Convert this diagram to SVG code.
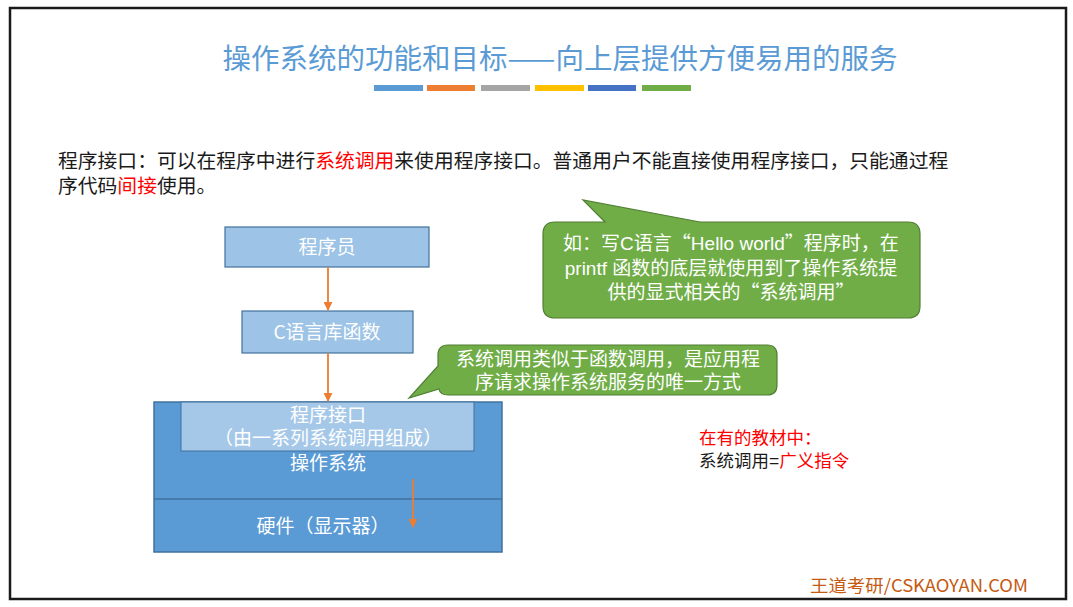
<svg xmlns="http://www.w3.org/2000/svg" width="1073" height="607" viewBox="0 0 1073 607">
<defs>
<style>
text{font-family:"Noto Sans CJK SC","Noto Sans",sans-serif;}
.w{fill:#ffffff;font-size:19px;text-anchor:middle;}
.box{fill:#9DC3E6;stroke:#41719C;stroke-width:1.2;}
.os{fill:#5B9BD5;stroke:#41719C;stroke-width:1.5;}
.call{fill:#70AD47;stroke:#507E32;stroke-width:1.2;}
.arr{stroke:#ED7D31;stroke-width:1.8;fill:none;marker-end:url(#ah);}
.red{fill:#FF0000;}
.blk{fill:#1a1a1a;}
.lt{font-family:"Liberation Sans","Noto Sans CJK SC",sans-serif;}
.q{font-family:"Noto Sans CJK SC",sans-serif;}
</style>
<marker id="ah" viewBox="0 0 10 10" refX="9" refY="5" markerWidth="5" markerHeight="5" orient="auto"><path d="M0,0L10,5L0,10z" fill="#ED7D31"/></marker>
</defs>
<rect x="0" y="0" width="1073" height="607" fill="#ffffff"/>
<rect x="10" y="8" width="1056" height="591" fill="#ffffff" stroke="#1a1a1a" stroke-width="2.5"/>
<g id="title">
<text x="560" y="69" font-size="28.5" fill="#5B9BD5" text-anchor="middle">操作系统的功能和目标——向上层提供方便易用的服务</text>
<rect x="374" y="85" width="49" height="6" fill="#5B9BD5"/>
<rect x="427" y="85" width="48" height="6" fill="#ED7D31"/>
<rect x="481" y="85" width="49" height="6" fill="#A5A5A5"/>
<rect x="535" y="85" width="49" height="6" fill="#FFC000"/>
<rect x="588" y="85" width="48" height="6" fill="#4472C4"/>
<rect x="642" y="85" width="49" height="6" fill="#70AD47"/>
</g>
<g id="intro" font-size="19.8">
<text class="blk lt" x="58" y="168">程序接口：可以在程序中进行<tspan class="red">系统调用</tspan>来使用程序接口。普通用户不能直接使用程序接口，只能通过程</text>
<text class="blk lt" x="58" y="193">序代码<tspan class="red">间接</tspan>使用。</text>
</g>
<g id="os">
<rect class="os" x="154" y="402" width="348" height="150"/>
<line x1="154" y1="499" x2="502" y2="499" stroke="#41719C" stroke-width="1.5"/>
<text class="w lt" x="328" y="470">操作系统</text>
<text class="w lt" x="323" y="533">硬件（显示器）</text>
</g>
<g id="api">
<rect x="181" y="402" width="293" height="49" fill="#BDD7EE" fill-opacity="0.75" stroke="#41719C" stroke-width="1"/>
<text class="w lt" x="328" y="422">程序接口</text>
<text class="w lt" x="328" y="445">（由一系列系统调用组成）</text>
</g>
<g id="programmer">
<rect class="box" x="225" y="227" width="204" height="40"/>
<text class="w" x="327" y="254">程序员</text>
</g>
<g id="clib">
<rect class="box" x="242" y="311" width="171" height="42"/>
<text class="w" x="327" y="339">C语言库函数</text>
</g>
<g id="connectors">
<line class="arr" x1="328" y1="267" x2="328" y2="310"/>
<line class="arr" x1="328" y1="353" x2="328" y2="401"/>
<line class="arr" x1="413" y1="479" x2="413" y2="527"/>
</g>
<g id="callout1">
<path class="call" d="M555,222 L605,222 L583,200 L700,222 L908,222 Q920,222 920,234 L920,306 Q920,318 908,318 L555,318 Q543,318 543,306 L543,234 Q543,222 555,222 Z"/>
<text class="w lt" x="731" y="250" font-size="17.7">如：写C语言<tspan class="q">“</tspan>Hello world<tspan class="q">”</tspan>程序时，在</text>
<text class="w lt" x="731" y="275" font-size="17.7">printf 函数的底层就使用到了操作系统提</text>
<text class="w lt" x="731" y="299" font-size="17.7">供的显式相关的<tspan class="q">“</tspan>系统调用<tspan class="q">”</tspan></text>
</g>
<g id="callout2">
<path class="call" d="M448,345 L767,345 Q777,345 777,355 L777,385 Q777,395 767,395 L448,395 Q440,395 439,389 L409,398 L438,366 L438,355 Q438,345 448,345 Z"/>
<text class="w lt" x="608" y="366" font-size="18.8">系统调用类似于函数调用，是应用程</text>
<text class="w lt" x="608" y="389" font-size="18.8">序请求操作系统服务的唯一方式</text>
</g>
<g id="note" font-size="17.5">
<text x="699" y="444" class="red lt">在有的教材中：</text>
<text x="699" y="467" class="blk lt">系统调用=<tspan class="red">广义指令</tspan></text>
</g>
<text x="810" y="592" font-size="17.5" fill="#C55A11" font-family="'Liberation Sans','Noto Sans CJK SC',sans-serif" textLength="218" lengthAdjust="spacingAndGlyphs">王道考研/CSKAOYAN.COM</text>
</svg>
